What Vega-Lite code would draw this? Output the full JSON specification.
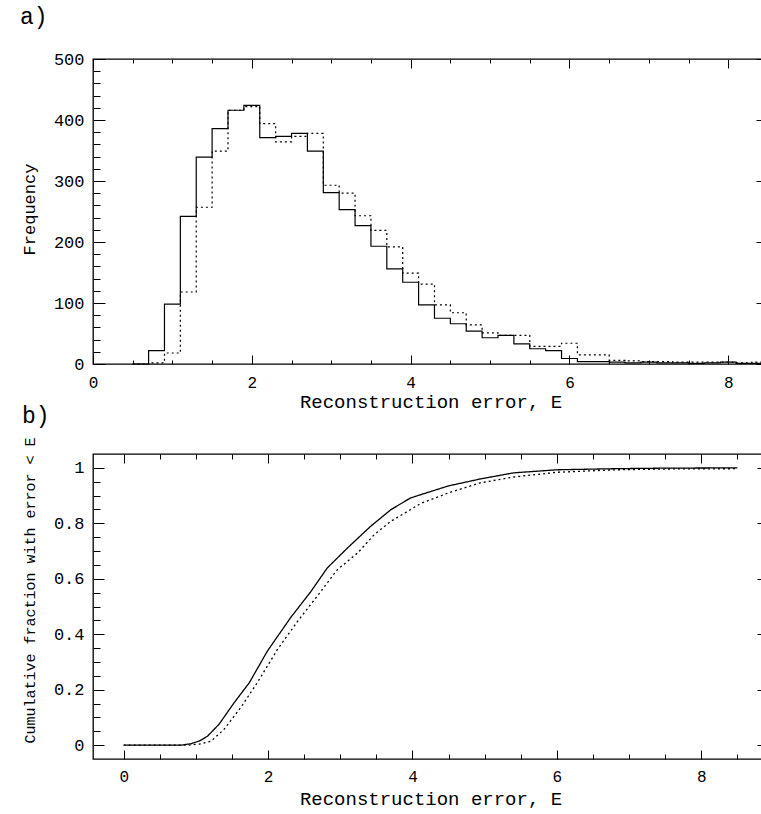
{
  "$schema": "https://vega.github.io/schema/vega-lite/v6.json",
  "background": "white",
  "padding": {"left": 19, "top": 5, "right": 0, "bottom": 5},
  "bounds": "flush",
  "spacing": 90,
  "config": {
    "font": "Liberation Mono",
    "view": {"stroke": "black", "strokeWidth": 1.3},
    "axis": {
      "domain": false, "grid": false, "tickColor": "black", "tickWidth": 1,
      "labelColor": "black", "titleColor": "black",
      "labelFont": "Liberation Mono", "titleFont": "Liberation Mono",
      "labelFontSize": 17, "titleFontSize": 19, "titleFontWeight": "normal",
      "labelFlush": false, "labelOverlap": false
    },
    "axisX": {"labelFontSize": 16},
    "title": {"font": "Liberation Mono", "fontSize": 23, "fontWeight": "normal", "color": "black"}
  },
  "datasets": {
    "hist": [
      {"E": 0.5, "f": 0, "s": "solid"}, {"E": 0.7, "f": 22, "s": "solid"}, {"E": 0.9, "f": 98, "s": "solid"},
      {"E": 1.1, "f": 242, "s": "solid"}, {"E": 1.3, "f": 339, "s": "solid"}, {"E": 1.5, "f": 386, "s": "solid"},
      {"E": 1.7, "f": 416, "s": "solid"}, {"E": 1.9, "f": 424, "s": "solid"}, {"E": 2.1, "f": 371, "s": "solid"},
      {"E": 2.3, "f": 373, "s": "solid"}, {"E": 2.5, "f": 378, "s": "solid"}, {"E": 2.7, "f": 349, "s": "solid"},
      {"E": 2.9, "f": 281, "s": "solid"}, {"E": 3.1, "f": 253, "s": "solid"}, {"E": 3.3, "f": 227, "s": "solid"},
      {"E": 3.5, "f": 193, "s": "solid"}, {"E": 3.7, "f": 156, "s": "solid"}, {"E": 3.9, "f": 134, "s": "solid"},
      {"E": 4.1, "f": 97, "s": "solid"}, {"E": 4.3, "f": 75, "s": "solid"}, {"E": 4.5, "f": 66, "s": "solid"},
      {"E": 4.7, "f": 54, "s": "solid"}, {"E": 4.9, "f": 43, "s": "solid"}, {"E": 5.1, "f": 47, "s": "solid"},
      {"E": 5.3, "f": 33, "s": "solid"}, {"E": 5.5, "f": 25, "s": "solid"}, {"E": 5.7, "f": 22, "s": "solid"},
      {"E": 5.9, "f": 9, "s": "solid"}, {"E": 6.1, "f": 4, "s": "solid"}, {"E": 6.3, "f": 4, "s": "solid"},
      {"E": 6.5, "f": 3, "s": "solid"}, {"E": 6.7, "f": 2, "s": "solid"}, {"E": 6.9, "f": 3, "s": "solid"},
      {"E": 7.1, "f": 2, "s": "solid"}, {"E": 7.3, "f": 2, "s": "solid"}, {"E": 7.5, "f": 1, "s": "solid"},
      {"E": 7.7, "f": 2, "s": "solid"}, {"E": 7.9, "f": 3, "s": "solid"}, {"E": 8.1, "f": 1, "s": "solid"},
      {"E": 8.3, "f": 1, "s": "solid"}, {"E": 8.5, "f": 1, "s": "solid"},
      {"E": 0.5, "f": 0, "s": "dotted"}, {"E": 0.7, "f": 2, "s": "dotted"}, {"E": 0.9, "f": 18, "s": "dotted"},
      {"E": 1.1, "f": 118, "s": "dotted"}, {"E": 1.3, "f": 257, "s": "dotted"}, {"E": 1.5, "f": 349, "s": "dotted"},
      {"E": 1.7, "f": 416, "s": "dotted"}, {"E": 1.9, "f": 422, "s": "dotted"}, {"E": 2.1, "f": 394, "s": "dotted"},
      {"E": 2.3, "f": 364, "s": "dotted"}, {"E": 2.5, "f": 373, "s": "dotted"}, {"E": 2.7, "f": 378, "s": "dotted"},
      {"E": 2.9, "f": 293, "s": "dotted"}, {"E": 3.1, "f": 280, "s": "dotted"}, {"E": 3.3, "f": 243, "s": "dotted"},
      {"E": 3.5, "f": 219, "s": "dotted"}, {"E": 3.7, "f": 192, "s": "dotted"}, {"E": 3.9, "f": 149, "s": "dotted"},
      {"E": 4.1, "f": 131, "s": "dotted"}, {"E": 4.3, "f": 97, "s": "dotted"}, {"E": 4.5, "f": 84, "s": "dotted"},
      {"E": 4.7, "f": 64, "s": "dotted"}, {"E": 4.9, "f": 51, "s": "dotted"}, {"E": 5.1, "f": 47, "s": "dotted"},
      {"E": 5.3, "f": 47, "s": "dotted"}, {"E": 5.5, "f": 29, "s": "dotted"}, {"E": 5.7, "f": 29, "s": "dotted"},
      {"E": 5.9, "f": 34, "s": "dotted"}, {"E": 6.1, "f": 15, "s": "dotted"}, {"E": 6.3, "f": 15, "s": "dotted"},
      {"E": 6.5, "f": 6, "s": "dotted"}, {"E": 6.7, "f": 5, "s": "dotted"}, {"E": 6.9, "f": 4, "s": "dotted"},
      {"E": 7.1, "f": 4, "s": "dotted"}, {"E": 7.3, "f": 3, "s": "dotted"}, {"E": 7.5, "f": 3, "s": "dotted"},
      {"E": 7.7, "f": 3, "s": "dotted"}, {"E": 7.9, "f": 3, "s": "dotted"}, {"E": 8.1, "f": 2, "s": "dotted"},
      {"E": 8.3, "f": 3, "s": "dotted"}, {"E": 8.5, "f": 3, "s": "dotted"}
    ],
    "cum": [
      {"E": 0, "F": 0, "s": "solid"}, {"E": 0.8, "F": 0, "s": "solid"}, {"E": 0.93, "F": 0.005, "s": "solid"},
      {"E": 1.05, "F": 0.015, "s": "solid"}, {"E": 1.16, "F": 0.032, "s": "solid"}, {"E": 1.32, "F": 0.075, "s": "solid"},
      {"E": 1.53, "F": 0.153, "s": "solid"}, {"E": 1.74, "F": 0.225, "s": "solid"}, {"E": 1.99, "F": 0.339, "s": "solid"},
      {"E": 2.31, "F": 0.459, "s": "solid"}, {"E": 2.59, "F": 0.553, "s": "solid"}, {"E": 2.82, "F": 0.639, "s": "solid"},
      {"E": 3.1, "F": 0.711, "s": "solid"}, {"E": 3.42, "F": 0.789, "s": "solid"}, {"E": 3.7, "F": 0.849, "s": "solid"},
      {"E": 3.97, "F": 0.891, "s": "solid"}, {"E": 4.11, "F": 0.903, "s": "solid"}, {"E": 4.5, "F": 0.935, "s": "solid"},
      {"E": 4.94, "F": 0.96, "s": "solid"}, {"E": 5.4, "F": 0.982, "s": "solid"}, {"E": 6.0, "F": 0.993, "s": "solid"},
      {"E": 6.8, "F": 0.997, "s": "solid"}, {"E": 7.5, "F": 0.999, "s": "solid"}, {"E": 8.5, "F": 1.0, "s": "solid"},
      {"E": 0, "F": 0, "s": "dotted"}, {"E": 0.9, "F": 0, "s": "dotted"}, {"E": 1.05, "F": 0.004, "s": "dotted"},
      {"E": 1.21, "F": 0.014, "s": "dotted"}, {"E": 1.39, "F": 0.057, "s": "dotted"}, {"E": 1.62, "F": 0.135, "s": "dotted"},
      {"E": 1.85, "F": 0.225, "s": "dotted"}, {"E": 2.13, "F": 0.345, "s": "dotted"}, {"E": 2.41, "F": 0.447, "s": "dotted"},
      {"E": 2.68, "F": 0.537, "s": "dotted"}, {"E": 2.96, "F": 0.633, "s": "dotted"}, {"E": 3.24, "F": 0.693, "s": "dotted"},
      {"E": 3.47, "F": 0.759, "s": "dotted"}, {"E": 3.7, "F": 0.807, "s": "dotted"}, {"E": 3.97, "F": 0.849, "s": "dotted"},
      {"E": 4.11, "F": 0.871, "s": "dotted"}, {"E": 4.5, "F": 0.91, "s": "dotted"}, {"E": 4.94, "F": 0.946, "s": "dotted"},
      {"E": 5.4, "F": 0.967, "s": "dotted"}, {"E": 6.0, "F": 0.984, "s": "dotted"}, {"E": 6.8, "F": 0.993, "s": "dotted"},
      {"E": 7.6, "F": 0.996, "s": "dotted"}, {"E": 8.5, "F": 0.997, "s": "dotted"}
    ]
  },
  "vconcat": [
    {
      "title": {"text": "a)", "anchor": "start", "frame": "bounds", "offset": 21},
      "width": 675, "height": 305,
      "data": {"name": "hist"},
      "layer": [
        {
          "mark": {"type": "line", "interpolate": "step-after", "color": "black", "strokeWidth": 1.2},
          "encoding": {
            "x": {"field": "E", "type": "quantitative", "scale": {"domain": [0, 8.5], "nice": false, "zero": false},
                  "axis": {"orient": "bottom", "values": [0, 2, 4, 6, 8], "tickSize": -9, "labelPadding": 19, "format": "~g",
                           "title": "Reconstruction error, E", "titleY": 43, "titleBaseline": "alphabetic"}},
            "y": {"field": "f", "type": "quantitative", "scale": {"domain": [0, 500], "nice": false},
                  "axis": {"orient": "left", "values": [0, 100, 200, 300, 400, 500], "tickSize": -12, "labelPadding": 21,
                           "title": "Frequency", "titleFontSize": 17, "titleX": -59, "titleY": 150, "titleBaseline": "alphabetic"}},
            "strokeDash": {"field": "s", "type": "nominal", "scale": {"domain": ["solid", "dotted"], "range": [[1, 0], [2, 3]]}, "legend": null}
          }
        },
        {
          "mark": {"type": "line", "opacity": 0},
          "encoding": {
            "x": {"field": "E", "type": "quantitative",
                  "axis": {"orient": "bottom", "values": [0.5, 1, 1.5, 2.5, 3, 3.5, 4.5, 5, 5.5, 6.5, 7, 7.5], "tickSize": -4, "labels": false, "title": null}},
            "y": {"field": "f", "type": "quantitative",
                  "axis": {"orient": "left", "values": [20, 40, 60, 80, 120, 140, 160, 180, 220, 240, 260, 280, 320, 340, 360, 380, 420, 440, 460, 480], "tickSize": -7, "labels": false, "title": null}}
          }
        },
        {
          "mark": {"type": "line", "opacity": 0},
          "encoding": {
            "x": {"field": "E", "type": "quantitative",
                  "axis": {"orient": "top", "values": [0, 2, 4, 6, 8], "tickSize": -9, "labels": false, "title": null}},
            "y": {"field": "f", "type": "quantitative",
                  "axis": {"orient": "right", "values": [0, 100, 200, 300, 400, 500], "tickSize": -12, "labels": false, "title": null}}
          }
        },
        {
          "mark": {"type": "line", "opacity": 0},
          "encoding": {
            "x": {"field": "E", "type": "quantitative",
                  "axis": {"orient": "top", "values": [0.5, 1, 1.5, 2.5, 3, 3.5, 4.5, 5, 5.5, 6.5, 7, 7.5], "tickSize": -4, "labels": false, "title": null}},
            "y": {"field": "f", "type": "quantitative",
                  "axis": {"orient": "right", "values": [20, 40, 60, 80, 120, 140, 160, 180, 220, 240, 260, 280, 320, 340, 360, 380, 420, 440, 460, 480], "tickSize": -7, "labels": false, "title": null}}
          }
        }
      ],
      "resolve": {"axis": {"x": "independent", "y": "independent"}}
    },
    {
      "title": {"text": "b)", "anchor": "start", "frame": "bounds", "offset": 9},
      "width": 675, "height": 305,
      "data": {"name": "cum"},
      "layer": [
        {
          "mark": {"type": "line", "color": "black", "strokeWidth": 1.3},
          "encoding": {
            "x": {"field": "E", "type": "quantitative", "scale": {"domain": [-0.425, 8.925], "nice": false, "zero": false},
                  "axis": {"orient": "bottom", "values": [0, 2, 4, 6, 8], "tickSize": -9, "labelPadding": 18, "format": "~g",
                           "title": "Reconstruction error, E", "titleY": 45, "titleBaseline": "alphabetic"}},
            "y": {"field": "F", "type": "quantitative", "scale": {"domain": [-0.05, 1.05], "nice": false, "zero": false},
                  "axis": {"orient": "left", "values": [0, 0.2, 0.4, 0.6, 0.8, 1], "tickSize": -11, "labelPadding": 20, "format": "~g",
                           "title": "Cumulative fraction with error < E", "titleFontSize": 15, "titleX": -59, "titleY": 136, "titleBaseline": "alphabetic"}},
            "strokeDash": {"field": "s", "type": "nominal", "scale": {"domain": ["solid", "dotted"], "range": [[1, 0], [1.5, 2.5]]}, "legend": null}
          }
        },
        {
          "mark": {"type": "line", "opacity": 0},
          "encoding": {
            "x": {"field": "E", "type": "quantitative",
                  "axis": {"orient": "bottom", "values": [0.5, 1, 1.5, 2.5, 3, 3.5, 4.5, 5, 5.5, 6.5, 7, 7.5, 8.5], "tickSize": -5, "labels": false, "title": null}},
            "y": {"field": "F", "type": "quantitative",
                  "axis": {"orient": "left", "values": [0.05, 0.1, 0.15, 0.25, 0.3, 0.35, 0.45, 0.5, 0.55, 0.65, 0.7, 0.75, 0.85, 0.9, 0.95], "tickSize": -7, "labels": false, "title": null}}
          }
        },
        {
          "mark": {"type": "line", "opacity": 0},
          "encoding": {
            "x": {"field": "E", "type": "quantitative",
                  "axis": {"orient": "top", "values": [0, 2, 4, 6, 8], "tickSize": -9, "labels": false, "title": null}},
            "y": {"field": "F", "type": "quantitative",
                  "axis": {"orient": "right", "values": [0, 0.2, 0.4, 0.6, 0.8, 1], "tickSize": -11, "labels": false, "title": null}}
          }
        },
        {
          "mark": {"type": "line", "opacity": 0},
          "encoding": {
            "x": {"field": "E", "type": "quantitative",
                  "axis": {"orient": "top", "values": [0.5, 1, 1.5, 2.5, 3, 3.5, 4.5, 5, 5.5, 6.5, 7, 7.5, 8.5], "tickSize": -5, "labels": false, "title": null}},
            "y": {"field": "F", "type": "quantitative",
                  "axis": {"orient": "right", "values": [0.05, 0.1, 0.15, 0.25, 0.3, 0.35, 0.45, 0.5, 0.55, 0.65, 0.7, 0.75, 0.85, 0.9, 0.95], "tickSize": -7, "labels": false, "title": null}}
          }
        }
      ],
      "resolve": {"axis": {"x": "independent", "y": "independent"}}
    }
  ]
}
